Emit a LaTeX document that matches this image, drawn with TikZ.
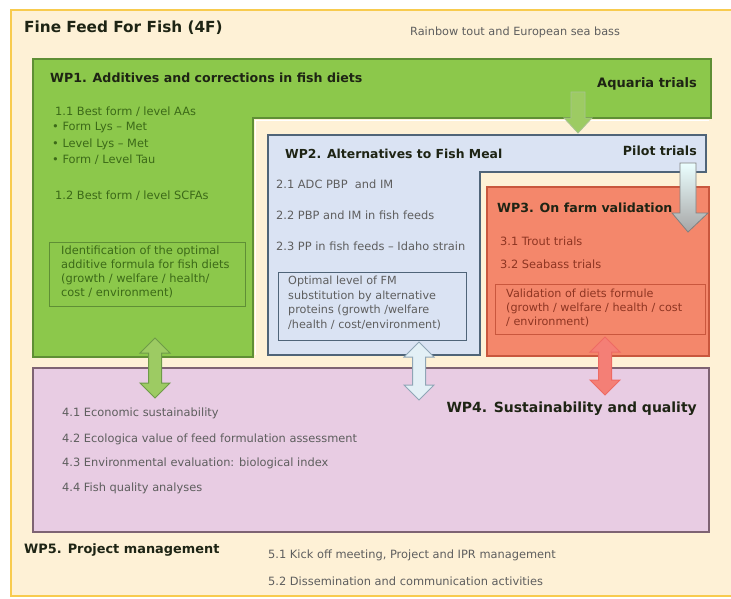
\documentclass[tikz,border=0pt]{standalone}
\usepackage{fontspec}
\setmainfont{DejaVu Sans}
\usetikzlibrary{shadings}
\definecolor{cream}{HTML}{FEF1D6}
\definecolor{frameY}{HTML}{F8CB4E}
\definecolor{wpgreen}{HTML}{8CC84B}
\definecolor{wpgreenD}{HTML}{5F8F35}
\definecolor{txtgreen}{HTML}{3C6A18}
\definecolor{wpblue}{HTML}{DAE3F3}
\definecolor{wpblueD}{HTML}{4F6478}
\definecolor{wpred}{HTML}{F4876B}
\definecolor{wpredD}{HTML}{C9573D}
\definecolor{txtred}{HTML}{8E3522}
\definecolor{wppink}{HTML}{E8CCE3}
\definecolor{wppinkD}{HTML}{7E6373}
\definecolor{txtgray}{HTML}{5E5E5E}
\definecolor{titleD}{HTML}{1E2414}
\definecolor{arrG}{HTML}{9DCB63}
\definecolor{arrGD}{HTML}{6E9B48}
\definecolor{arrB}{HTML}{E3F0F6}
\definecolor{arrBD}{HTML}{8FA6B6}
\definecolor{arrR}{HTML}{F47F76}
\definecolor{arrRD}{HTML}{EE6A63}
\newcommand\dblarr[5]{%
  \filldraw[fill=#4,draw=#5,line width=1pt,line join=miter]
    (#1,#2) -- (#1+15,#2+15) -- (#1+6.5,#2+15) -- (#1+6.5,#3-15) -- (#1+15,#3-15)
    -- (#1,#3) -- (#1-15,#3-15) -- (#1-6.5,#3-15) -- (#1-6.5,#2+15) -- (#1-15,#2+15) -- cycle;}
\tikzset{
  wptitle/.style={anchor=west,font=\bfseries\fontsize{12.6}{14}\selectfont,text=titleD,inner sep=0pt},
  item/.style={anchor=west,font=\fontsize{11.4}{13}\selectfont,inner sep=0pt},
  boxtxt/.style={anchor=north west,align=left,font=\fontsize{11.4}{13.8}\selectfont,inner sep=0pt},
}
\begin{document}
\begin{tikzpicture}[x=1pt,y=-1pt]
\useasboundingbox (0,0) rectangle (731,599);
\fill[white] (0,0) rectangle (731,599);
% outer frame
\filldraw[fill=cream,draw=frameY,line width=2.5pt] (11,10) rectangle (745,596);
\node[anchor=west,inner sep=0pt,font=\bfseries\fontsize{15.3}{17}\selectfont,text=titleD] (title) at (24,28) {Fine Feed For Fish (4F)};
\node[anchor=west,inner sep=0pt,font=\fontsize{11.3}{12}\selectfont,text=txtgray] (species) at (410,32) {Rainbow tout and European sea bass};

% WP1
\filldraw[fill=wpgreen,draw=wpgreenD,line width=1.2pt] (33,59) -- (711,59) -- (711,118) -- (253,118) -- (253,357) -- (33,357) -- cycle;
\draw[white,line width=0.8pt] (255,120) -- (709,120);
\draw[white,line width=0.8pt] (255,120) -- (255,355);
\node[wptitle] (wp1) at (50,78) {WP1. Additives and corrections in fish diets};
\node[wptitle,font=\bfseries\fontsize{13}{14}\selectfont,anchor=east] (aq) at (697,84) {Aquaria trials};
\node[item,text=txtgreen] (i11) at (55,112) {1.1 Best form / level AAs};
\node[item,text=txtgreen] (i11a) at (52,128) {\textbullet\ Form Lys – Met};
\node[item,text=txtgreen] (i11b) at (52,144) {\textbullet\ Level Lys – Met};
\node[item,text=txtgreen] (i11c) at (52,160) {\textbullet\ Form / Level Tau};
\node[item,text=txtgreen] (i12) at (55,196) {1.2 Best form / level SCFAs};
\draw[draw=wpgreenD,line width=1pt] (49,242) rectangle (245,306);
\node[boxtxt,text=txtgreen] (r1) at (61,246) {Identification of the optimal\\additive formula for fish diets\\(growth / welfare / health/\\cost / environment)};

% WP2
\filldraw[fill=wpblue,draw=wpblueD,line width=1.5pt] (268,135) -- (706,135) -- (706,172) -- (480,172) -- (480,355) -- (268,355) -- cycle;
\node[wptitle,font=\bfseries\fontsize{12.4}{14}\selectfont] (wp2) at (285,154) {WP2. Alternatives to Fish Meal};
\node[wptitle,font=\bfseries\fontsize{12.6}{14}\selectfont,anchor=east] (pt) at (697,151) {Pilot trials};
\node[item,text=txtgray] (i21) at (276,184) {2.1 ADC PBP \ and IM};
\node[item,text=txtgray] (i22) at (276,215) {2.2 PBP and IM in fish feeds};
\node[item,text=txtgray] (i23) at (276,246) {2.3 PP in fish feeds – Idaho strain};
\draw[draw=wpblueD,line width=1pt] (278,272) rectangle (466,340);
\node[boxtxt,text=txtgray,font=\fontsize{11.2}{14.5}\selectfont] (r2) at (288,276) {Optimal level of FM\\substitution by alternative\\proteins (growth /welfare\\/health / cost/environment)};

% WP3
\filldraw[fill=wpred,draw=wpredD,line width=1.2pt] (487,187) rectangle (709,356);
\node[wptitle] (wp3) at (497,208) {WP3. On farm validation};
\node[item,text=txtred] (i31) at (500,241) {3.1 Trout trials};
\node[item,text=txtred] (i32) at (500,264) {3.2 Seabass trials};
\draw[draw=wpredD,line width=1pt] (495,284) rectangle (705,334);
\node[boxtxt,text=txtred,font=\fontsize{11.2}{13.8}\selectfont] (r3) at (506,289) {Validation of diets formule\\(growth / welfare / health / cost\\/ environment)};

% WP4
\filldraw[fill=wppink,draw=wppinkD,line width=1.2pt] (33,368) rectangle (709,532);
\node[wptitle,font=\bfseries\fontsize{14}{16}\selectfont,anchor=east] (wp4) at (697,409) {WP4. Sustainability and quality};
\node[item,text=txtgray] (i41) at (62,413) {4.1 Economic sustainability};
\node[item,text=txtgray] (i42) at (62,439) {4.2 Ecologica value of feed formulation assessment};
\node[item,text=txtgray] (i43) at (62,463) {4.3 Environmental evaluation: biological index};
\node[item,text=txtgray] (i44) at (62,488) {4.4 Fish quality analyses};

% WP5
\node[wptitle,font=\bfseries\fontsize{12.9}{15}\selectfont] (wp5) at (24,550) {WP5. Project management};
\node[item,text=txtgray] (i51) at (268,555) {5.1 Kick off meeting, Project and IPR management};
\node[item,text=txtgray] (i52) at (268,581) {5.2 Dissemination and communication activities};

% arrows
\filldraw[fill=arrG,draw=arrGD!60!white,line width=0.8pt]
  (571,92) -- (585,92) -- (585,118) -- (592,118) -- (578,133) -- (564,118) -- (571,118) -- cycle;
\shade[top color=cyan!8!white,bottom color=gray!70] 
  (680,163) -- (696,163) -- (696,213) -- (708,213) -- (688,232) -- (672,213) -- (680,213) -- cycle;
\draw[draw=gray,line width=0.8pt]
  (680,163) -- (696,163) -- (696,213) -- (708,213) -- (688,232) -- (672,213) -- (680,213) -- cycle;
\dblarr{155}{338}{398}{arrG}{arrGD}
\dblarr{419}{342}{400}{arrB}{arrBD}
\dblarr{605}{337}{395}{arrR}{arrRD}
\end{tikzpicture}
\end{document}
